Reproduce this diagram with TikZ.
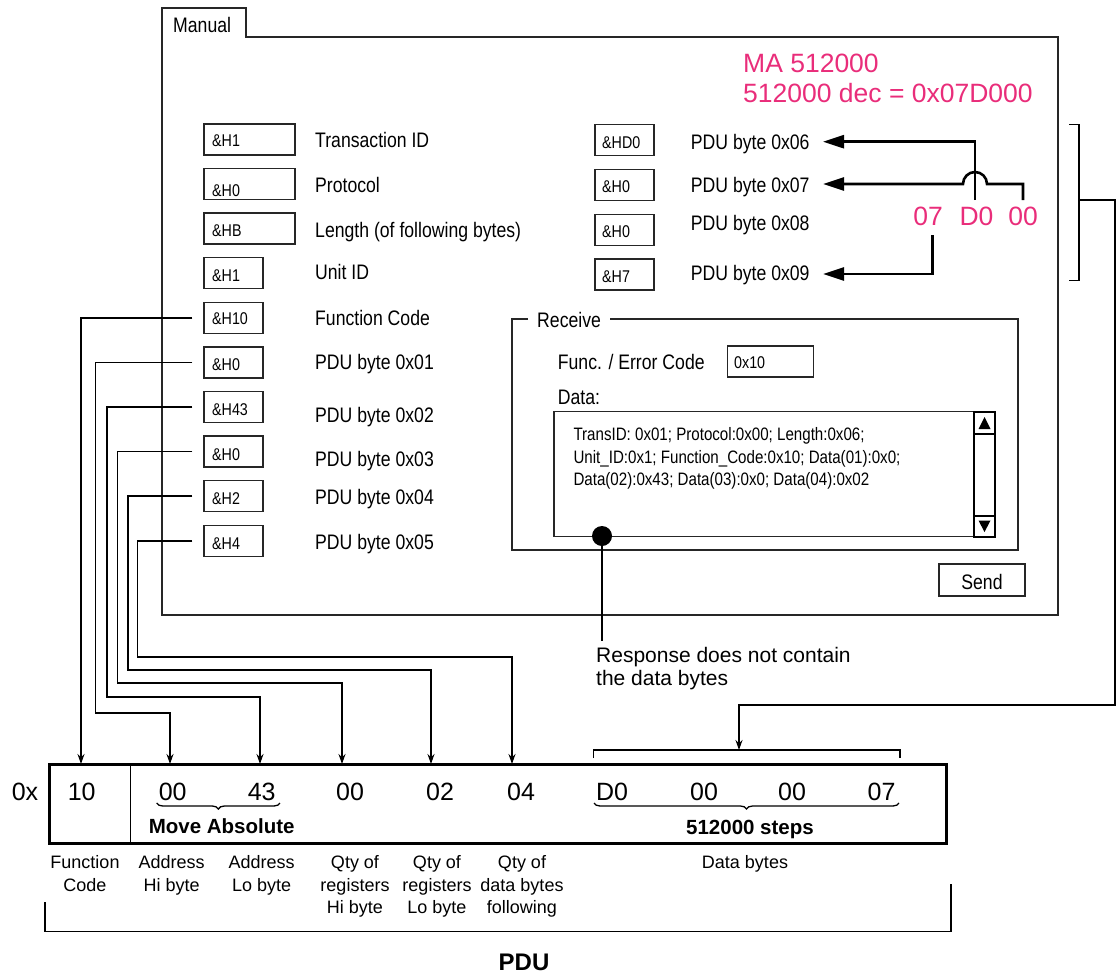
\documentclass[tikz,border=0pt]{standalone}
\usepackage{fontspec}
\setmainfont{Liberation Sans}
\newfontfamily\narrowfont[FakeStretch=0.84]{Liberation Sans}
\usetikzlibrary{arrows.meta,decorations.pathreplacing}
\definecolor{pinkc}{RGB}{233,45,122}
\newcommand\rsui{\narrowfont\fontsize{21}{25}\selectfont}
\newcommand\rsbox{\narrowfont\fontsize{17}{20}\selectfont}
\newcommand\rsdata{\narrowfont\fontsize{18}{22}\selectfont}
\newcommand\rslab{\fontsize{18}{22.3}\selectfont}
\newcommand\rsnum{\fontsize{25}{28}\selectfont}
\newcommand\rspink{\fontsize{26.5}{30}\selectfont}
\newcommand\rsbold{\bfseries\fontsize{20.5}{23}\selectfont}
\begin{document}
\begin{tikzpicture}[x=1pt,y=-1pt,
  win/.style={draw=black!85,line width=1.2pt},
  fbox/.style={draw=black!85,line width=1.2pt,inner sep=0,minimum height=31pt},
  uitxt/.style={font=\rsui,anchor=base west,inner sep=0},
  boxtxt/.style={font=\rsbox,anchor=base west,inner sep=0},
  datatxt/.style={font=\rsdata,anchor=base west,inner sep=0},
  pinktxt/.style={font=\rspink,text=pinkc,inner sep=0},
  numtxt/.style={font=\rsnum,anchor=base,inner sep=0},
  labtxt/.style={font=\rslab,align=center,anchor=north,inner sep=0},
  conn/.style={draw=black,line width=1.2pt,-{Stealth[length=10pt,width=7pt]}},
  thickarr/.style={draw=black,line width=2.6pt,-{Triangle[length=21pt,width=13pt]}},
  thinln/.style={draw=black,line width=1.2pt},
  bracedec/.style={line width=1.3pt,decorate,decoration={brace,amplitude=6pt,mirror}}]
\useasboundingbox (0,0) rectangle (1119,977);

% ---------- Manual window ----------
\draw[win] (162,615) -- (162,8) -- (246,8) -- (246,37) -- (1058,37) -- (1058,615) -- cycle;
\node[font=\rsui,anchor=base west,inner sep=0] (tabtxt) at (173,32.5) {Manual};

% left column boxes
\node[fbox,minimum width=91pt] (bT) at (249.5,139.5) {};
\node[fbox,minimum width=91pt] (bP) at (249.5,184) {};
\node[fbox,minimum width=91pt] (bL) at (249.5,228.5) {};
\node[fbox,minimum width=59pt] (bU) at (233.5,273) {};
\node[fbox,minimum width=59pt] (bF) at (233.5,318) {};
\node[fbox,minimum width=59pt] (b01) at (233.5,362.5) {};
\node[fbox,minimum width=59pt] (b02) at (233.5,407) {};
\node[fbox,minimum width=59pt] (b03) at (233.5,451.5) {};
\node[fbox,minimum width=59pt] (b04) at (233.5,496) {};
\node[fbox,minimum width=59pt] (b05) at (233.5,541) {};

\node[boxtxt] (vT) at (212,146) {\&H1};
\node[boxtxt] (vP) at (212,196) {\&H0};
\node[boxtxt] (vL) at (212,236) {\&HB};
\node[boxtxt] (vU) at (212,281) {\&H1};
\node[boxtxt] (vF) at (212,324) {\&H10};
\node[boxtxt] (v01) at (212,370) {\&H0};
\node[boxtxt] (v02) at (212,415) {\&H43};
\node[boxtxt] (v03) at (212,460) {\&H0};
\node[boxtxt] (v04) at (212,504) {\&H2};
\node[boxtxt] (v05) at (212,549) {\&H4};

\node[uitxt] (lT) at (315,147.5) {Transaction ID};
\node[uitxt] (lP) at (315,192.5) {Protocol};
\node[uitxt] (lL) at (315,237.5) {Length (of following bytes)};
\node[uitxt] (lU) at (315,279.5) {Unit ID};
\node[uitxt] (lF) at (315,325.5) {Function Code};
\node[uitxt] (l01) at (315,369.5) {PDU byte 0x01};
\node[uitxt] (l02) at (315,422.5) {PDU byte 0x02};
\node[uitxt] (l03) at (315,466.5) {PDU byte 0x03};
\node[uitxt] (l04) at (315,504.5) {PDU byte 0x04};
\node[uitxt] (l05) at (315,549.5) {PDU byte 0x05};

% right column
\node[fbox,minimum width=59pt] (b06) at (624.5,140) {};
\node[fbox,minimum width=59pt] (b07) at (624.5,185) {};
\node[fbox,minimum width=59pt] (b08) at (624.5,230) {};
\node[fbox,minimum width=59pt] (b09) at (624.5,274.5) {};
\node[boxtxt] (v06) at (602,148) {\&HD0};
\node[boxtxt] (v07) at (602,192) {\&H0};
\node[boxtxt] (v08) at (602,237) {\&H0};
\node[boxtxt] (v09) at (602,282) {\&H7};
\node[uitxt] (l06) at (690.7,149.5) {PDU byte 0x06};
\node[uitxt] (l07) at (690.7,192.5) {PDU byte 0x07};
\node[uitxt] (l08) at (690.7,230.5) {PDU byte 0x08};
\node[uitxt] (l09) at (690.7,280.5) {PDU byte 0x09};

% pink annotations
\node[pinktxt,anchor=base west] (ma1) at (743,72.5) {MA 512000};
\node[pinktxt,anchor=base west] (ma2) at (743,102.8) {512000 dec = 0x07D000};
\node[pinktxt,anchor=base] (p07) at (928,225.5) {07};
\node[pinktxt,anchor=base] (pD0) at (976.5,225.5) {D0};
\node[pinktxt,anchor=base] (p00) at (1023,225.5) {00};

\coordinate (a06) at (823,141.7);
\coordinate (a07) at (823,184);
\coordinate (a09) at (823,274);
\draw[thickarr] (975,200) -- (975,141.7) -- (a06);
\draw[thickarr] (1023,200) -- (1023,184) -- (987,184) arc[start angle=0,end angle=-180,radius=12] -- (a07);
\draw[thickarr] (932.7,235) -- (932.7,274) -- (a09);

% bracket on right
\coordinate (brm) at (1079,200);
\draw[thinln] (1069,124.5) -- (1079,124.5) -- (1079,280.6) -- (1069,280.6);

% Receive frame
\draw[win] (528,319) -- (512,319) -- (512,550) -- (1018,550) -- (1018,319) -- (610,319);
\node[uitxt] (recv) at (537,327.5) {Receive};
\node[uitxt] (fec) at (557.7,369.2) {Func. / Error Code};
\node[fbox,minimum width=86pt] (ecbox) at (770.8,361.5) {};
\node[boxtxt] (ecval) at (734,368.8) {0x10};
\node[uitxt] (datalbl) at (557.7,404.2) {Data:};
\node[draw=black!85,line width=1.2pt,inner sep=0,minimum width=441pt,minimum height=125pt] (databox) at (774.5,474.2) {};
\draw[line width=2pt] (974,411.7) rectangle (995,536.7);
\draw[line width=1.2pt] (974,434) -- (995,434) (974,516) -- (995,516);
\fill (978.5,429) -- (990.5,429) -- (984.5,417) -- cycle;
\fill (978.5,520.5) -- (990.5,520.5) -- (984.5,532) -- cycle;
\node[datatxt] (d1) at (573.3,440.4) {TransID: 0x01; Protocol:0x00; Length:0x06;};
\node[datatxt] (d2) at (573.3,463.1) {Unit\_ID:0x1; Function\_Code:0x10; Data(01):0x0;};
\node[datatxt] (d3) at (573.3,485.7) {Data(02):0x43; Data(03):0x0; Data(04):0x02};
\node[fbox,minimum width=86pt,minimum height=32pt] (send) at (982,580) {};
\node[font=\rsui,anchor=base,inner sep=0] (sendtxt) at (982,589.2) {Send};

% response note
\node[circle,fill=black,minimum size=20pt,inner sep=0] (dot) at (602,536) {};
\node[font=\fontsize{21}{23}\selectfont,anchor=base west,inner sep=0] (resp1) at (596,662.5) {Response does not contain};
\node[font=\fontsize{21}{23}\selectfont,anchor=base west,inner sep=0] (resp2) at (596,685.5) {the data bytes};
\draw[line width=2.6pt] (dot.center) -- (602,641);

% ---------- PDU frame ----------
\node[draw=black,line width=3pt,inner sep=0,minimum width=897pt,minimum height=79.5pt] (pdubox) at (497.5,803.75) {};
\draw[line width=1.5pt] (130.7,764) -- (130.7,843.5);
\node[numtxt] (n0x) at (25,800) {0x};
\node[numtxt] (n10) at (81.7,800) {10};
\node[numtxt] (n00a) at (172.7,800) {00};
\node[numtxt] (n43) at (261.7,800) {43};
\node[numtxt] (n00b) at (350,800) {00};
\node[numtxt] (n02) at (440,800) {02};
\node[numtxt] (n04) at (521,800) {04};
\node[numtxt] (nD0) at (612,800) {D0};
\node[numtxt] (n00c) at (704,800) {00};
\node[numtxt] (n00d) at (792,800) {00};
\node[numtxt] (n07) at (881.6,800) {07};
\draw[bracedec] (156.7,803) -- (280,803);
\draw[bracedec] (594,803) -- (899,803);
\node[font=\rsbold,anchor=base,inner sep=0] (mvabs) at (221.7,833) {Move Absolute};
\node[font=\rsbold,anchor=base,inner sep=0] (steps) at (750,834) {512000 steps};

\node[labtxt] (lbFC) at (85,855.6) {Function\\Code};
\node[labtxt] (lbAH) at (171.7,855.6) {Address\\Hi byte};
\node[labtxt] (lbAL) at (261.7,855.6) {Address\\Lo byte};
\node[labtxt] (lbRH) at (355,855.6) {Qty of\\registers\\Hi byte};
\node[labtxt] (lbRL) at (437,855.6) {Qty of\\registers\\Lo byte};
\node[labtxt] (lbDB) at (522,855.6) {Qty of\\data bytes\\following};
\node[labtxt] (lbData) at (745,855.6) {Data bytes};

% PDU bracket
\draw[thinln] (45,902) -- (45,931.7) -- (951,931.7) -- (951,884);
\node[font=\bfseries\fontsize{24}{28}\selectfont,anchor=base,inner sep=0] (pdu) at (524,970.3) {PDU};

% data bytes bracket and connector
\draw[thinln] (593.5,758) -- (593.5,750) -- (900,750) -- (900,758);
\coordinate (tData) at (739,750);
\draw[conn] (brm) -- (1115,200) -- (1115,705) -- (739,705) -- (tData);

% ---------- connectors to PDU fields ----------
\coordinate (t1) at (81,764);
\coordinate (t2) at (170,764);
\coordinate (t3) at (260,764);
\coordinate (t4) at (342,764);
\coordinate (t5) at (431,764);
\coordinate (t6) at (512,764);
\draw[conn] ([xshift=-11pt]bF.west) -| (t1);
\draw[conn] ([xshift=-11pt]b01.west) -| (95.7,713) -| (t2);
\draw[conn] ([xshift=-11pt]b02.west) -| (107,697) -| (t3);
\draw[conn] ([xshift=-11pt]b03.west) -| (117.7,683) -| (t4);
\draw[conn] ([xshift=-11pt]b04.west) -| (128,670) -| (t5);
\draw[conn] ([xshift=-11pt]b05.west) -| (137.7,657) -| (t6);
\end{tikzpicture}
\end{document}
